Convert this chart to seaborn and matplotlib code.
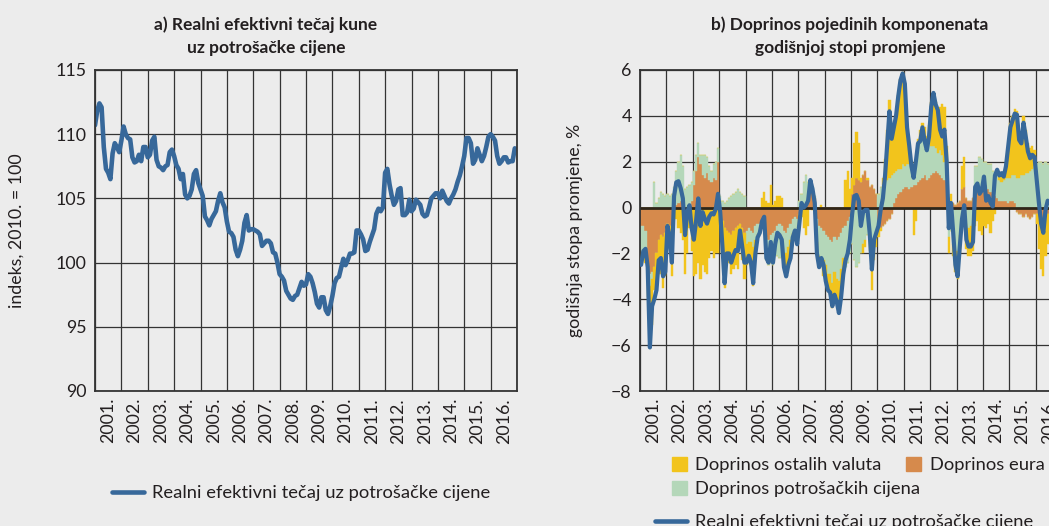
import numpy as np
import pandas as pd
import matplotlib
matplotlib.use("Agg")
import matplotlib.pyplot as plt
import seaborn as sns
from matplotlib.patches import Patch
from matplotlib.lines import Line2D

# ---- data (monthly, Jan 2001 - Dec 2016) ----
years = list(range(2001, 2017))
year_labels = [f"{y}." for y in years]

# a) real effective exchange rate index, 2010 = 100
reer_index = [
    110.7, 111.8, 112.4, 112.1, 109.0, 107.3, 107.0, 106.5, 108.5, 109.3, 109.0, 108.6,
    109.5, 110.6, 110.0, 109.7, 109.6, 108.2, 107.8, 107.9, 108.4, 107.9, 109.0, 109.0,
    108.2, 108.4, 109.5, 109.8, 108.0, 107.5, 107.4, 107.2, 107.5, 107.6, 108.6, 108.8,
    108.3, 107.6, 107.3, 106.5, 106.9, 105.3, 105.0, 105.2, 105.7, 106.9, 107.2, 106.2,
    105.7, 105.2, 103.6, 103.3, 102.9, 103.4, 103.7, 104.0, 104.8, 105.4, 104.7, 104.3,
    103.2, 102.4, 102.3, 102.0, 101.0, 100.5, 101.0, 101.7, 103.1, 103.7, 102.5, 102.6,
    102.6, 102.5, 102.4, 102.2, 101.3, 101.5, 101.7, 101.7, 101.5, 100.8, 100.7, 100.0,
    99.1, 98.9, 98.6, 97.8, 97.5, 97.2, 97.1, 97.4, 97.5, 98.0, 98.5, 98.2,
    98.3, 99.1, 98.9, 98.4, 97.7, 96.8, 96.5, 97.3, 97.3, 96.3, 96.0, 96.6,
    97.4, 98.4, 98.8, 98.9, 99.6, 100.3, 99.8, 100.2, 100.7, 100.7, 100.8, 102.5,
    102.5, 102.2, 101.8, 100.9, 101.0, 101.6, 102.1, 102.6, 103.8, 104.2, 104.0, 104.3,
    107.0, 107.3, 106.1, 105.2, 104.5, 104.8, 105.7, 105.8, 103.7, 103.7, 103.9, 104.9,
    104.0, 104.2, 104.9, 104.7, 104.5, 103.8, 103.6, 103.7, 104.3, 105.0, 105.2, 105.4,
    105.4, 105.0, 105.6, 105.2, 104.8, 104.6, 105.0, 105.3, 105.7, 106.3, 106.8, 107.5,
    108.3, 109.7, 109.7, 109.3, 107.7, 108.0, 108.9, 108.4, 107.9, 108.3, 109.0, 109.8,
    110.0, 109.8, 109.5, 108.3, 107.7, 107.9, 108.2, 108.2, 107.8, 107.9, 107.9, 108.9,
]

# b) annual rate of change, %
reer_rate = [
    -2.5, -1.9, -1.8, -2.6, -6.1, -4.3, -4.0, -3.6, -2.3, -2.2, -3.0, -2.8,
    -0.8, -1.3, -2.4, 0.5, 1.1, 1.15, 0.85, 0.4, -1.2, -0.2, 0.1, -0.9,
    -1.4, -0.6, 0.4, -0.8, -0.2, -0.5, -0.7, -0.4, -0.25, -0.3, -0.05, 0.6,
    -0.2, -1.7, -3.3, -2.0, -2.0, -2.4, -2.1, -1.85, -1.9, -1.0, -1.7, -2.4,
    -2.4, -2.1, -2.4, -3.3, -2.0, -1.3, -1.1, -0.6, -0.4, -2.2, -2.4, -1.5,
    -2.4, -1.6, -1.1, -1.2, -1.4, -2.6, -3.0, -2.5, -2.2, -1.3, -1.0, -1.6,
    -0.7, 0.2, 0.0, 0.1, 0.3, 1.2, 0.8, 0.2, -2.0, -2.6, -2.2, -2.5,
    -3.2, -3.6, -3.7, -4.3, -3.8, -4.1, -4.6, -3.9, -2.9, -2.3, -2.0, -1.4,
    -0.3, 0.5, 0.55, 0.3, -0.8, -0.2, -0.1, -0.1, -1.1, -2.7, -1.4, -1.1,
    -0.8, -0.1, 0.4, 1.4, 2.8, 4.2, 3.0, 3.5, 4.0, 4.85, 5.55, 5.85,
    5.4, 3.5, 2.7, 1.8, 1.3, 2.0, 2.8, 2.9, 3.5, 2.9, 2.5, 3.1,
    4.4, 5.0, 4.5, 4.25, 3.4, 3.1, 3.4, 2.05, -0.9, 0.2, -1.1, -2.5,
    -3.0, -1.7, -0.5, 0.1, -1.4, -1.7, -1.7, -1.5, 0.9, 1.05, 0.6, 0.75,
    1.35, 0.3, 0.5, 0.2, 0.05, 1.4, 1.65, 1.4, 1.5, 1.35, 1.8, 2.65,
    3.5, 3.8, 4.1, 4.05, 2.95, 2.8, 3.7, 3.1, 2.45, 2.15, 2.3, 2.2,
    1.2, 0.2, -0.7, -1.1, -0.1, 0.3, 0.2, 0.4, 0.6, 0.5, 0.3, 0.5,
]

contrib_euro = [
    -0.8, -0.8, -1.0, -2.6, -2.9, -2.8, -2.6, -2.0, -1.4, -1.2, -1.3, -1.1,
    -0.7, -0.8, -0.9, -0.2, 0.1, 0.2, 0.3, 0.2, -0.3, -0.2, -0.1, 0.3,
    1.0, 1.6, 2.2, 1.9, 1.4, 1.3, 1.5, 1.2, 1.1, 1.3, 1.2, 2.0,
    -0.3, -0.6, -0.9, -1.0, -1.1, -1.2, -1.0, -0.9, -0.8, -0.7, -0.9, -1.1,
    -1.0, -0.9, -1.0, -1.1, -0.8, -0.7, -0.7, -0.6, -0.5, -1.3, -1.4, -1.2,
    -1.1, -1.0, -0.8, -0.7, -0.8, -1.0, -1.1, -0.9, -0.7, -0.5, -0.4, -0.5,
    -0.3, -0.1, 0.1, 0.2, 0.5, 0.7, 0.7, 0.4, -0.5, -0.8, -0.9, -1.0,
    -1.2, -1.3, -1.4, -1.5, -1.3, -1.4, -1.3, -1.1, -0.9, -0.8, -0.6, -0.4,
    0.6, 1.0, 1.3, 1.2, 1.1, 1.4, 1.6, 1.2, 0.9, 1.0, 0.8, 0.6,
    -0.8, -0.9, -0.8, -0.7, -0.6, -0.5, -0.3, 0.2, 0.4, 0.6, 0.7, 0.8,
    0.9, 0.9, 0.8, 0.9, 1.0, 1.0, 1.1, 1.2, 1.3, 1.4, 1.2, 1.3,
    1.4, 1.5, 1.6, 1.5, 1.4, 1.3, 1.2, 1.1, 0.4, 0.3, 0.2, 0.1,
    0.2, 0.3, 0.8, 0.9, 0.4, 0.3, 0.3, 0.4, 0.6, 0.8, 0.9, 0.7,
    0.9, 1.0, 0.8, 0.7, 0.6, 0.5, 0.4, 0.3, 0.3, 0.3, 0.3, 0.2,
    0.3, 0.3, 0.2, -0.2, -0.3, -0.3, -0.4, -0.3, -0.4, -0.5, -0.4, -0.3,
    -0.3, -0.4, -0.5, -0.5, -0.4, -0.3, -0.3, -0.2, -0.2, -0.1, -0.1, -0.1,
]

contrib_prices = [
    -1.2, -1.1, -1.2, -0.3, -0.5, -0.3, 1.1, 0.2, 0.4, 0.7, 0.6, 0.5,
    0.6, 0.5, 0.6, 0.9, 1.5, 1.8, 2.0, 1.6, 0.8, 0.9, 1.0, 0.8,
    0.6, 0.7, 0.6, 0.4, 0.9, 1.0, 0.7, 0.6, 0.5, 0.6, 0.8, 0.6,
    0.5, 0.3, 0.2, 0.3, 0.4, 0.5, 0.6, 0.7, 0.8, 0.7, 0.6, 0.5,
    -0.6, -0.6, -0.5, -0.6, -0.6, -0.5, -0.4, -0.3, -0.4, -1.0, -1.1, -1.2,
    -1.4, -1.0, -1.3, -1.5, -1.2, -1.0, -0.9, -0.8, -0.7, -0.6, -0.6, -0.8,
    0.3, 0.6, 1.0, 1.2, 0.6, 0.4, 0.2, 0.1, -1.0, -1.3, -1.4, -1.3,
    -1.3, -1.6, -1.5, -1.8, -1.5, -1.7, -1.9, -1.6, -1.3, -1.8, -1.8, -1.6,
    -1.6, -2.3, -2.6, -2.4, -2.0, -1.6, -1.4, -1.2, -1.3, -1.4, -1.5, -1.3,
    0.6, 0.9, 1.0, 1.1, 1.2, 1.3, 1.4, 1.3, 1.2, 1.1, 1.0, 1.1,
    0.9, 1.0, 1.1, 0.9, 0.6, 0.8, 1.5, 1.7, 1.8, 1.6, 1.5, 1.7,
    1.3, 1.2, 1.0, 0.9, 1.1, 1.0, 0.8, 0.6, -1.3, -1.0, -1.6, -1.9,
    -1.9, -1.2, -0.6, -0.3, -0.7, -0.9, -0.8, -0.7, 1.2, 1.0, 1.3, 1.4,
    1.1, 1.0, 1.1, 1.2, 1.0, 0.9, 1.0, 0.9, 0.8, 0.9, 1.0, 1.1,
    1.0, 1.1, 1.2, 1.3, 1.3, 1.4, 1.4, 1.5, 1.5, 1.6, 1.7, 1.8,
    1.9, 2.0, 2.0, 1.9, 2.0, 1.9, 1.8, 1.8, 1.7, 1.7, 1.6, 1.6,
]

contrib_other = [
    -0.3, -0.2, -0.2, -1.0, -1.9, -2.0, -1.0, -1.4, -1.5, -1.7, -2.2, -1.9,
    -0.7, -1.0, -2.1, -0.2, -0.5, -0.9, -1.1, -1.4, -2.6, -1.8, -0.8, -1.9,
    -3.0, -2.9, -2.4, -3.1, -2.5, -2.8, -2.9, -2.2, -1.9, -2.2, -2.0, -2.0,
    -0.4, -1.4, -2.6, -1.3, -1.3, -1.7, -1.7, -1.6, -1.9, -1.0, -1.4, -2.0,
    -0.9, -0.6, -0.9, -1.7, -0.5, 0.0, 0.0, 0.4, 0.7, 0.3, 0.2, 1.0,
    0.1, 0.3, 0.5, 0.5, 0.4, -0.6, -0.9, -0.8, -0.7, -0.2, -0.3, -0.3,
    -0.7, -0.3, -0.9, -1.2, -0.8, 0.1, -0.1, -0.3, -0.5, -0.5, 0.1, -0.7,
    -0.8, -0.8, -0.9, -1.1, -1.0, -1.1, -1.4, -1.2, -0.8, 1.2, 1.6, 0.8,
    0.7, 1.8, 2.0, 1.6, 0.2, -0.4, -0.3, 0.1, -0.6, -2.2, -0.8, -0.4,
    -0.5, -0.1, 0.3, 1.0, 2.2, 3.4, 2.0, 2.0, 2.4, 3.2, 3.9, 4.0,
    3.6, 1.6, 0.8, 0.2, -1.2, -0.6, 0.4, 0.5, 0.6, 0.5, 0.4, 0.6,
    1.9, 2.2, 2.0, 1.9, 1.9, 2.2, 2.4, 1.0, -0.7, 0.3, -0.5, -0.9,
    -1.2, -0.8, 1.0, 1.3, -1.1, -1.2, -1.3, -1.2, -0.8, -0.6, -1.0, -1.2,
    -0.8, -0.9, -0.7, -1.1, -0.6, -0.3, 0.3, 0.3, 0.4, 0.2, 0.5, 1.3,
    2.4, 2.6, 2.9, 2.9, 1.9, 1.7, 2.6, 1.9, 1.3, 1.0, 1.0, 0.7,
    -0.4, -1.4, -2.2, -2.5, -1.7, -1.3, -1.3, -1.2, -0.9, -1.1, -1.2, -1.0,
]

BG = "#ececec"
TXT = "#231f20"
BLUE = "#37689a"
YELLOW = "#f2c41c"
ORANGE = "#d68a4c"
GREEN = "#b4d7b9"
GRID = "#333333"

n = len(reer_index)
df = pd.DataFrame({
    "t": 2001 + np.arange(n) / 12,
    "index": reer_index,
    "rate": reer_rate,
    "euro": contrib_euro,
    "prices": contrib_prices,
    "other": contrib_other,
})

sns.set_theme(style="white", rc={"axes.facecolor": BG, "figure.facecolor": BG})
plt.rcParams["font.family"] = ["Lato", "DejaVu Sans"]
plt.rcParams["text.color"] = TXT
plt.rcParams["axes.labelcolor"] = TXT
plt.rcParams["xtick.color"] = TXT
plt.rcParams["ytick.color"] = TXT

W, H = 1049, 526
fig = plt.figure(figsize=(W / 100, H / 100), dpi=100)
ax1 = fig.add_axes([95 / W, 135 / H, 422 / W, 321 / H])
ax2 = fig.add_axes([640 / W, 135 / H, 422 / W, 321 / H])


def style_axes(ax, ylim, yticks):
    ax.set_xlim(2001, 2017)
    ax.set_ylim(*ylim)
    ax.set_yticks(yticks)
    ax.set_xticks([y + 0.5 for y in years])
    ax.set_xticklabels(year_labels, rotation=90)
    ax.set_xticks(range(2001, 2018), minor=True)
    ax.grid(True, which="minor", axis="x", color=GRID, lw=0.9)
    ax.grid(True, which="major", axis="y", color=GRID, lw=0.9)
    ax.tick_params(axis="both", which="both", length=0, labelsize=12.8)
    ax.tick_params(axis="x", pad=5)
    ax.tick_params(axis="y", pad=6)
    for s in ax.spines.values():
        s.set_color("#333333")
        s.set_linewidth(1.3)
    ax.set_xlabel("")


# ---- a) ----
sns.lineplot(data=df, x="t", y="index", ax=ax1, color=BLUE, lw=3.3, legend=False)
style_axes(ax1, (90, 115), range(90, 116, 5))
ax1.set_ylabel("indeks, 2010. = 100", fontsize=12.8, labelpad=22)

# ---- b) ----
pos = np.zeros(n)
neg = np.zeros(n)
for col, color in [("euro", ORANGE), ("prices", GREEN), ("other", YELLOW)]:
    v = df[col].to_numpy()
    p = np.where(v > 0, v, 0.0)
    q = np.where(v < 0, v, 0.0)
    ax2.bar(df["t"], p, width=1 / 12, bottom=pos, align="edge", color=color,
            edgecolor=color, lw=0.3, zorder=1)
    ax2.bar(df["t"], q, width=1 / 12, bottom=neg, align="edge", color=color,
            edgecolor=color, lw=0.3, zorder=1)
    pos += p
    neg += q
ax2.axhline(0, color="#2e2519", lw=2.0, zorder=2)
sns.lineplot(x=df["t"] + 1 / 24, y=df["rate"], ax=ax2, color=BLUE, lw=3.0,
             legend=False, zorder=3)
style_axes(ax2, (-8, 6), range(-8, 7, 2))
ax2.set_ylabel("godišnja stopa promjene, %", fontsize=12.8, labelpad=20)

# ---- titles ----
fig.text(266 / W, 1 - 25 / H, "a) Realni efektivni tečaj kune", ha="center", va="center",
         fontsize=12.5, fontweight="bold")
fig.text(266 / W, 1 - 48 / H, "uz potrošačke cijene", ha="center", va="center",
         fontsize=12.5, fontweight="bold")
fig.text(850 / W, 1 - 25 / H, "b) Doprinos pojedinih komponenata", ha="center", va="center",
         fontsize=12.5, fontweight="bold")
fig.text(850 / W, 1 - 48 / H, "godišnjoj stopi promjene", ha="center", va="center",
         fontsize=12.5, fontweight="bold")

# ---- legends ----
line_label = "Realni efektivni tečaj uz potrošačke cijene"
leg_kw = dict(frameon=False, borderpad=0, borderaxespad=0, fontsize=13.2,
              loc="center left", handletextpad=0.45)
fig.legend(handles=[Line2D([], [], color=BLUE, lw=3.3)], labels=[line_label],
           bbox_to_anchor=(112 / W, 1 - 493 / H), handlelength=1.75, **leg_kw)

fig.legend(handles=[Patch(color=YELLOW), Patch(color=ORANGE)],
           labels=["Doprinos ostalih valuta", "Doprinos eura"], ncol=2,
           bbox_to_anchor=(672 / W, 1 - 465 / H), handlelength=0.82, handleheight=0.82,
           columnspacing=1.35, **leg_kw)
fig.legend(handles=[Patch(color=GREEN)], labels=["Doprinos potrošačkih cijena"],
           bbox_to_anchor=(672 / W, 1 - 489 / H), handlelength=0.82, handleheight=0.82,
           **leg_kw)
fig.legend(handles=[Line2D([], [], color=BLUE, lw=3.3)], labels=[line_label],
           bbox_to_anchor=(655 / W, 1 - 522 / H), handlelength=1.75, **leg_kw)

fig.savefig("out.png", dpi=100, facecolor=BG)
